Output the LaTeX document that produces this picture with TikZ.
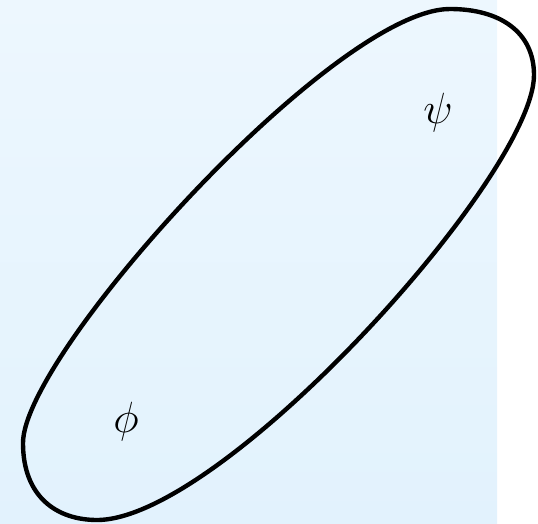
\documentclass[tikz,border=0pt]{standalone}
\usepackage{amsmath}
\usepackage{amssymb}
\usetikzlibrary{calc}

\definecolor{bgTop}{RGB}{237, 247, 254}
\definecolor{bgBottom}{RGB}{226, 242, 253}

\tikzset{
    blob/.style={line width=2.5pt, black},
    sym/.style={font=\fontsize{32}{36}\selectfont},
}

\begin{document}
\begin{tikzpicture}[x=0.02cm, y=-0.02cm]
    \useasboundingbox (0,0) rectangle (538,524);

    % Background panel
    \shade[top color=bgTop, bottom color=bgBottom] (0,0) rectangle (497,524);

    % Closed curve holding both states
    \draw[blob] (450,9)
        .. controls (500,9) and (534,32) .. (534,75)
        .. controls (534,175) and (222,520) .. (97,520)
        .. controls (57,520) and (23,497) .. (23,443)
        .. controls (23,354) and (335,9) .. cycle;

    % State labels
    \node[sym] (psi) at (438,113) {$\psi$};
    \node[sym] (phi) at (126,422) {$\phi$};
\end{tikzpicture}
\end{document}
